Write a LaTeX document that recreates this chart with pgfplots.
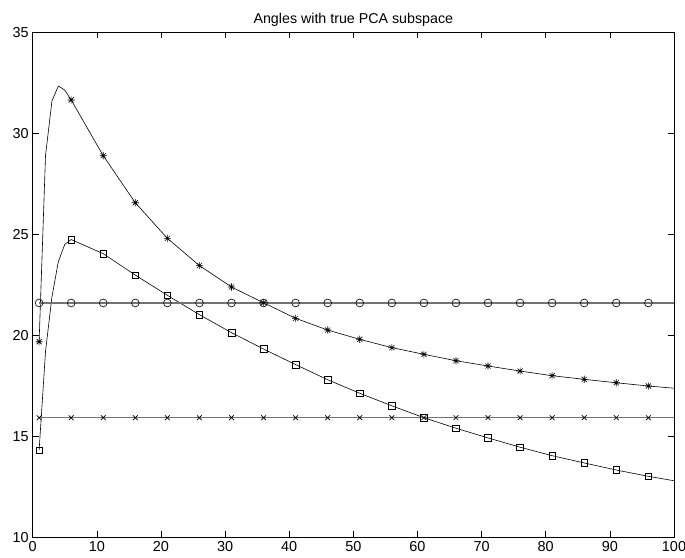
\documentclass[border=0pt]{standalone}
\usepackage{fontspec}
\setmainfont{Liberation Sans}
\usepackage{pgfplots}
\pgfplotsset{compat=1.18}
\pgfdeclareplotmark{mstar}{%
  \pgfpathmoveto{\pgfqpoint{-\pgfplotmarksize}{0pt}}\pgfpathlineto{\pgfqpoint{\pgfplotmarksize}{0pt}}%
  \pgfpathmoveto{\pgfqpoint{0pt}{-\pgfplotmarksize}}\pgfpathlineto{\pgfqpoint{0pt}{\pgfplotmarksize}}%
  \pgfpathmoveto{\pgfqpoint{-.7071\pgfplotmarksize}{-.7071\pgfplotmarksize}}\pgfpathlineto{\pgfqpoint{.7071\pgfplotmarksize}{.7071\pgfplotmarksize}}%
  \pgfpathmoveto{\pgfqpoint{-.7071\pgfplotmarksize}{.7071\pgfplotmarksize}}\pgfpathlineto{\pgfqpoint{.7071\pgfplotmarksize}{-.7071\pgfplotmarksize}}%
  \pgfusepathqstroke}
\pgfplotstableread{
x y
1 19.68
2 28.9
3 31.6
4 32.34
5 32.14
6 31.65
11 28.89
16 26.56
21 24.80
26 23.45
31 22.39
36 21.61
41 20.84
46 20.26
51 19.80
56 19.39
61 19.06
66 18.74
71 18.48
76 18.23
81 18.00
86 17.82
91 17.65
96 17.49
100 17.38
}\stars
\pgfplotstableread{
x y
1 14.3
2 19.2
3 21.9
4 23.65
5 24.5
6 24.74
11 24.04
16 22.98
21 21.98
26 21.02
31 20.13
36 19.32
41 18.55
46 17.80
51 17.13
56 16.51
61 15.92
66 15.40
71 14.92
76 14.46
81 14.04
86 13.68
91 13.33
96 13.02
100 12.80
}\squares
\pgfplotstableread{
x y
1 21.6
6 21.6
11 21.6
16 21.6
21 21.6
26 21.6
31 21.6
36 21.6
41 21.6
46 21.6
51 21.6
56 21.6
61 21.6
66 21.6
71 21.6
76 21.6
81 21.6
86 21.6
91 21.6
96 21.6
100 21.6
}\circles
\pgfplotstableread{
x y
1 15.92
6 15.92
11 15.92
16 15.92
21 15.92
26 15.92
31 15.92
36 15.92
41 15.92
46 15.92
51 15.92
56 15.92
61 15.92
66 15.92
71 15.92
76 15.92
81 15.92
86 15.92
91 15.92
96 15.92
100 15.92
}\crosses
\begin{document}
\begin{tikzpicture}
\begin{axis}[
  scale only axis,
  width=641.3bp, height=505bp,
  xmin=0, xmax=100, ymin=10, ymax=35,
  xtick={0,10,...,100}, ytick={10,15,...,35},
  tick align=inside,
  major tick length=6bp,
  axis line style={line width=0.8bp},
  tick style={line width=0.6bp, black},
  ticklabel style={font=\fontsize{14.5}{16}\selectfont},
  /pgf/number format/assume math mode=true,
  xticklabel style={yshift=-0.5bp},
  yticklabel style={xshift=-0.5bp},
  title={Angles with true PCA subspace},
  title style={font=\fontsize{14.3}{16}\selectfont, yshift=-4bp},
  every axis plot/.append style={line width=0.6bp},
]
\addplot[black, mark=mstar, mark size=3.6bp, mark options={line width=0.6bp},
  mark indices={1,6,7,8,9,10,11,12,13,14,15,16,17,18,19,20,21,22,23,24}] table[x=x,y=y]{\stars};
\addplot[black, mark=square, mark size=3.3bp, mark options={line width=0.6bp},
  mark indices={1,6,7,8,9,10,11,12,13,14,15,16,17,18,19,20,21,22,23,24}] table[x=x,y=y]{\squares};
\addplot[black!55, line width=1.1bp, mark=o, mark size=3.9bp, mark options={black!90, line width=0.7bp},
  mark indices={1,2,3,4,5,6,7,8,9,10,11,12,13,14,15,16,17,18,19,20}] table[x=x,y=y]{\circles};
\addplot[black!55, line width=1.1bp, mark=x, mark size=3.4bp, mark options={black, line width=0.7bp},
  mark indices={1,2,3,4,5,6,7,8,9,10,11,12,13,14,15,16,17,18,19,20}] table[x=x,y=y]{\crosses};
\end{axis}
\pgfresetboundingbox
\path ([shift={(-32.7bp,-20.7bp)}]current axis.south west) rectangle ([shift={(11bp,32.3bp)}]current axis.north east);
\end{tikzpicture}
\end{document}
